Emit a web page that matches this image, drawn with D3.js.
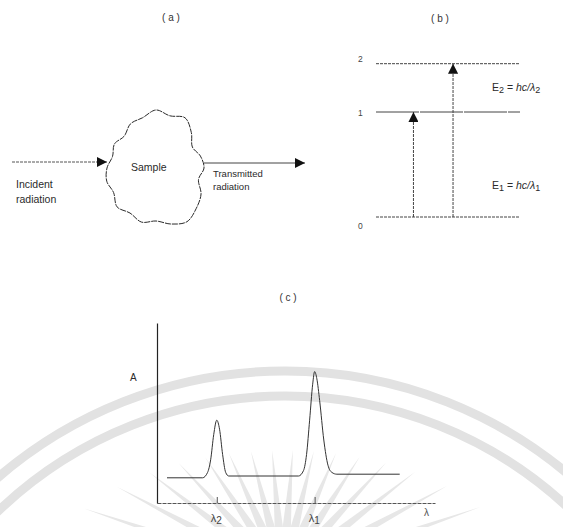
<!DOCTYPE html>
<html>
<head>
<meta charset="utf-8">
<script src="https://cdn.jsdelivr.net/npm/d3@7/dist/d3.min.js"></script>
<style>
  body { margin: 0; background: #fff; }
  svg { display: block; font-family: "Liberation Sans", Arial, sans-serif; }
</style>
</head>
<body>
<svg id="fig" width="563" height="527"></svg>
<script>
const width = 563
const height = 527

// panel captions
const panelLabels = ['( a )', '( b )', '( c )']

// (a) sample: outline radius every 15 degrees
const sampleRadii = [48, 44, 52, 57, 62, 58, 53, 56, 52, 55, 49, 51, 49, 45, 48, 45, 51, 52, 58, 54, 58, 50, 42, 46]
const incidentText = ['Incident', 'radiation']
const transmittedText = ['Transmitted', 'radiation']

// (b) energy levels (relative energy) and the two absorptions
const levelNames = ['0', '1', '2']
const levelEnergy = [0, 1, 1.46]
const transitionTo = [1, 2]
const transitionX = [0.26, 0.535]

// (c) absorption spectrum, wavelength (arb.) vs absorbance A
const wavelength = [3.6, 16.4, 18.2, 19.3, 20.4, 21.5, 22.5, 23.6, 24.7, 25.8, 50.9, 52.7, 53.8, 54.9, 56.0, 56.7, 57.5, 58.5, 60.0, 61.5, 62.9, 64.7, 87.3]
const absorbance = [0.14, 0.14, 0.17, 0.24, 0.38, 0.46, 0.41, 0.27, 0.17, 0.15, 0.15, 0.18, 0.27, 0.46, 0.66, 0.73, 0.69, 0.57, 0.35, 0.21, 0.17, 0.16, 0.16]
const peakAt = [21.5, 56.7]
const peakNames = ['2', '1']

// faint watermark of the scanned page (arcs + sunburst)
const wmArcRadii = [440, 415]
const wmRayAngles = [-81, -71.5, -62, -52.5, -43, -33.5, -24, -14.5, -5, 4.5, 14, 23.5, 33, 42.5, 52, 61.5, 71, 80.5]

const ink = '#2a2a2a'
const svg = d3.select('#fig')

const defs = svg.append('defs')
defs.append('marker')
  .attr('id', 'head')
  .attr('viewBox', '0 0 10 10')
  .attr('refX', 10).attr('refY', 5)
  .attr('markerWidth', 10).attr('markerHeight', 10)
  .attr('markerUnits', 'userSpaceOnUse')
  .attr('orient', 'auto')
  .append('path')
  .attr('d', 'M0,0L10,5L0,10Z')
  .attr('fill', '#111')

// ---- watermark
const wm = svg.append('g')
const arcC = [285, 811]
wm.selectAll('circle')
  .data(wmArcRadii)
  .join('circle')
  .attr('cx', arcC[0]).attr('cy', arcC[1])
  .attr('r', d => d)
  .attr('fill', 'none')
  .attr('stroke', '#e2e2e2')
  .attr('stroke-width', 9)

const rayC = [283, 575]
wm.selectAll('path')
  .data(wmRayAngles)
  .join('path')
  .attr('fill', '#e7e7e7')
  .attr('d', a => {
    const t = a * Math.PI / 180
    const sx = Math.sin(t), sy = -Math.cos(t)
    const r = 1 / Math.sqrt((sx / 235) ** 2 + (sy / 125) ** 2)
    const tip = [rayC[0] + sx * r, rayC[1] + sy * r]
    const b = [rayC[0] + sx * r * 0.25, rayC[1] + sy * r * 0.25]
    const hw = 5
    return d3.line()([tip, [b[0] - sy * hw, b[1] + sx * hw], [b[0] + sy * hw, b[1] - sx * hw]]) + 'Z'
  })

// ---- captions
const capPos = [[171, 21], [440, 22], [288, 301]]
svg.append('g')
  .selectAll('text')
  .data(panelLabels)
  .join('text')
  .attr('x', (d, i) => capPos[i][0])
  .attr('y', (d, i) => capPos[i][1])
  .attr('text-anchor', 'middle')
  .attr('font-size', 10)
  .attr('fill', '#333')
  .text(d => d)

// ---- (a) sample
const gA = svg.append('g')
const sc = [156, 168]
const ang = d3.scaleLinear().domain([0, sampleRadii.length]).range([0, 2 * Math.PI])
gA.append('path')
  .datum(sampleRadii)
  .attr('fill', 'none')
  .attr('stroke', ink)
  .attr('stroke-width', 1)
  .attr('stroke-dasharray', '6 1')
  .attr('d', d3.line()
    .x((r, i) => sc[0] + r * Math.cos(ang(i)))
    .y((r, i) => sc[1] + r * Math.sin(ang(i)))
    .curve(d3.curveCatmullRomClosed.alpha(0.5)))

gA.append('text')
  .attr('x', 131).attr('y', 171)
  .attr('font-size', 10.5).attr('fill', ink)
  .text('Sample')

gA.append('line')
  .attr('x1', 12).attr('y1', 162).attr('x2', 107).attr('y2', 162)
  .attr('stroke', '#555').attr('stroke-dasharray', '3 1')
  .attr('marker-end', 'url(#head)')
gA.append('line')
  .attr('x1', 204).attr('y1', 163).attr('x2', 305).attr('y2', 163)
  .attr('stroke', '#444')
  .attr('marker-end', 'url(#head)')

gA.append('text')
  .attr('x', 16).attr('y', 188)
  .attr('font-size', 10.5).attr('fill', ink)
  .selectAll('tspan')
  .data(incidentText)
  .join('tspan')
  .attr('x', 16).attr('dy', (d, i) => i ? 15 : 0)
  .text(d => d)

gA.append('text')
  .attr('x', 213).attr('y', 177)
  .attr('font-size', 9.5).attr('fill', ink)
  .selectAll('tspan')
  .data(transmittedText)
  .join('tspan')
  .attr('x', 213).attr('dy', (d, i) => i ? 13 : 0)
  .text(d => d)

// ---- (b) energy levels
const gB = svg.append('g')
const xB = d3.scaleLinear().domain([0, 1]).range([376, 520])
const yB = d3.scaleLinear().domain([0, 1]).range([217, 112])

gB.selectAll('line.level')
  .data(levelEnergy)
  .join('line')
  .attr('class', 'level')
  .attr('x1', xB(0)).attr('x2', xB(1))
  .attr('y1', d => yB(d)).attr('y2', d => yB(d))
  .attr('stroke', '#444')
  .attr('stroke-dasharray', (d, i) => i === 1 ? '40 0 3 1' : '3 1')

gB.selectAll('text.lvl')
  .data(levelNames)
  .join('text')
  .attr('class', 'lvl')
  .attr('x', 358)
  .attr('y', (d, i) => yB(levelEnergy[i]) + (i === 0 ? 12 : i === 1 ? 4 : -2))
  .attr('font-size', 8.5)
  .attr('fill', '#444')
  .text(d => d)

gB.selectAll('line.trans')
  .data(transitionTo)
  .join('line')
  .attr('class', 'trans')
  .attr('x1', (d, i) => xB(transitionX[i]))
  .attr('x2', (d, i) => xB(transitionX[i]))
  .attr('y1', yB(0))
  .attr('y2', d => yB(levelEnergy[d]))
  .attr('stroke', '#444')
  .attr('stroke-dasharray', '3 1')
  .attr('marker-end', 'url(#head)')

const eqY = [189, 91]
transitionTo.forEach((d, i) => {
  const t = gB.append('text')
    .attr('x', 492).attr('y', eqY[i])
    .attr('font-size', 10.5).attr('fill', ink)
  t.append('tspan').text('E')
  t.append('tspan').attr('font-size', 9).attr('dy', 2).text(d)
  t.append('tspan').attr('dy', -2).text(' = ')
  t.append('tspan').attr('font-style', 'italic').text('hc/λ')
  t.append('tspan').attr('font-size', 9).attr('dy', 2).text(d)
})

// ---- (c) spectrum
const gC = svg.append('g')
const x = d3.scaleLinear().domain([0, 100]).range([157, 435])
const y = d3.scaleLinear().domain([0, 1]).range([503, 323])

const xAxis = gC.append('g')
  .attr('transform', `translate(0,${y(0)})`)
  .call(d3.axisBottom(x).tickValues(peakAt).tickSizeInner(-6).tickSizeOuter(0).tickFormat(''))
xAxis.select('.domain').attr('stroke', '#555').attr('stroke-dasharray', '4 1')
xAxis.selectAll('.tick line').attr('stroke', '#555')

const yAxis = gC.append('g')
  .attr('transform', `translate(${x(0)},0)`)
  .call(d3.axisLeft(y).tickValues([]).tickSizeOuter(0))
yAxis.select('.domain').attr('stroke', '#222').attr('stroke-width', 1.2)

gC.append('path')
  .datum(wavelength.map((w, i) => [w, absorbance[i]]))
  .attr('fill', 'none')
  .attr('stroke', '#333')
  .attr('stroke-width', 1)
  .attr('d', d3.line()
    .x(d => x(d[0]))
    .y(d => y(d[1]))
    .curve(d3.curveMonotoneX))

peakAt.forEach((p, i) => {
  const t = gC.append('text')
    .attr('x', x(p) - 6).attr('y', 522)
    .attr('font-size', 11).attr('fill', '#444')
  t.append('tspan').text('λ')
  t.append('tspan').attr('font-size', 10).attr('dy', 2).text(peakNames[i])
})

gC.append('text')
  .attr('x', 424).attr('y', 516)
  .attr('font-size', 10).attr('fill', '#555')
  .text('λ')

gC.append('text')
  .attr('x', 130).attr('y', 381)
  .attr('font-size', 10).attr('fill', ink)
  .text('A')
</script>
</body>
</html>
